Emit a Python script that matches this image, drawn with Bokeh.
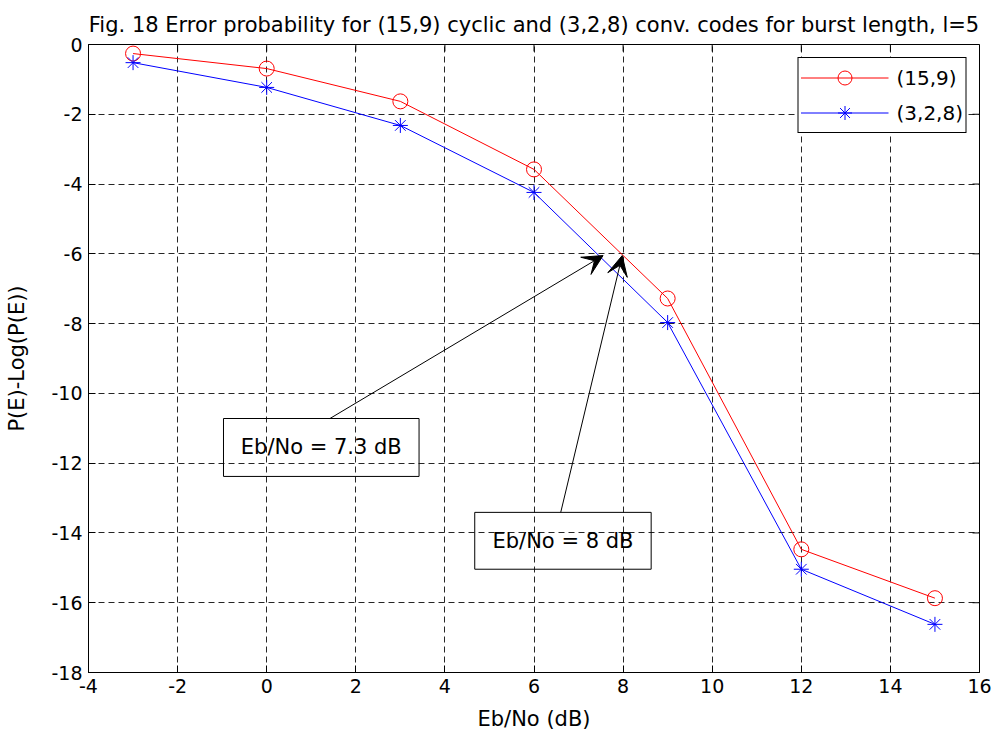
from bokeh.plotting import figure
from bokeh.models import (Range1d, Arrow, VeeHead, BoxAnnotation, Label,
                          Legend, LegendItem, FixedTicker)
from bokeh.embed import file_html
from bokeh.resources import INLINE

ebno = [-3, 0, 3, 6, 9, 12, 15]
cyclic_15_9 = [-0.26, -0.69, -1.63, -3.58, -7.28, -14.47, -15.87]
conv_3_2_8 = [-0.52, -1.23, -2.32, -4.24, -7.97, -15.04, -16.62]
x_ticks = [-4, -2, 0, 2, 4, 6, 8, 10, 12, 14, 16]
y_ticks = [0, -2, -4, -6, -8, -10, -12, -14, -16, -18]

FONT = "DejaVu Sans"
X0, X1, Y0, Y1 = -4, 16, -18, 0

p = figure(width=997, height=738, output_backend="svg", toolbar_location=None,
           x_range=Range1d(X0, X1), y_range=Range1d(Y0, Y1),
           min_border_left=88, min_border_right=18, min_border_top=44, min_border_bottom=66,
           title="Fig. 18 Error probability for (15,9) cyclic and (3,2,8) conv. codes for burst length, l=5")
p.title.align = "center"
p.title.text_font = FONT
p.title.text_font_style = "normal"
p.title.text_font_size = "21px"
p.title.text_color = "black"
p.title.standoff = 16
p.title.offset = 6

p.outline_line_color = "black"
p.outline_line_width = 1
p.outline_line_alpha = 1

for ax, ticks in ((p.xaxis[0], x_ticks), (p.yaxis[0], y_ticks)):
    ax.ticker = FixedTicker(ticks=ticks)
    ax.major_label_overrides = {t: str(t) for t in ticks}
    ax.major_tick_in = 7
    ax.major_tick_out = 0
    ax.minor_tick_in = 0
    ax.minor_tick_out = 0
    ax.axis_line_color = "black"
    ax.major_tick_line_color = "black"
    ax.major_label_text_font = FONT
    ax.major_label_text_font_size = "19px"
    ax.major_label_text_color = "black"
    ax.axis_label_text_font = FONT
    ax.axis_label_text_font_size = "21px"
    ax.axis_label_text_font_style = "normal"
    ax.axis_label_text_color = "black"

p.xaxis[0].axis_label = "Eb/No (dB)"
p.yaxis[0].axis_label = "P(E)-Log(P(E))"
p.xaxis[0].major_label_standoff = 6
p.yaxis[0].major_label_standoff = 6
p.xaxis[0].axis_label_standoff = 11
p.yaxis[0].axis_label_standoff = 19

# box ticks on top and right edges (inward)
tick_dy = 7 / 34.9
tick_dx = 7 / 44.55
p.segment(x0=x_ticks, y0=[Y1] * len(x_ticks), x1=x_ticks, y1=[Y1 - tick_dy] * len(x_ticks),
          line_color="black", line_width=1)
p.segment(x0=[X1] * len(y_ticks), y0=y_ticks, x1=[X1 - tick_dx] * len(y_ticks), y1=y_ticks,
          line_color="black", line_width=1)

for g, ticks in ((p.xgrid[0], x_ticks), (p.ygrid[0], y_ticks)):
    g.ticker = FixedTicker(ticks=ticks)
    g.grid_line_color = "black"
    g.grid_line_alpha = 0.85
    g.grid_line_dash = "6 4"
    g.grid_line_width = 1

r1l = p.line(ebno, cyclic_15_9, line_color="red", line_width=1)
r1m = p.scatter(ebno, cyclic_15_9, marker="circle", size=15, line_color="red",
                fill_color=None, line_width=1)
r2l = p.line(ebno, conv_3_2_8, line_color="blue", line_width=1)
r2m = p.scatter(ebno, conv_3_2_8, marker="asterisk", size=15, line_color="blue", line_width=1)

legend = Legend(items=[LegendItem(label="(15,9)", renderers=[r1l, r1m]),
                       LegendItem(label="(3,2,8)", renderers=[r2l, r2m])],
                location="top_right", margin=13, padding=2, spacing=0,
                glyph_width=88, glyph_height=35, label_standoff=8,
                label_text_font=FONT, label_text_font_size="20px", label_text_color="black",
                border_line_color="black", border_line_width=1.5, border_line_alpha=1,
                background_fill_color="white", background_fill_alpha=1)
p.add_layout(legend)

# annotations
ann_boxes = [(-0.97, 3.42, -10.72, -12.38), (4.67, 8.63, -13.41, -15.04)]
ann_texts = ["Eb/No = 7.3 dB", "Eb/No = 8 dB"]
arrow_starts = [(1.42, -10.72), (6.6, -13.41)]
arrow_tips = [(7.55, -6.05), (7.98, -6.05)]

for (l, r, t, b), txt in zip(ann_boxes, ann_texts):
    p.add_layout(BoxAnnotation(left=l, right=r, top=t, bottom=b, fill_alpha=0,
                               line_color="black", line_width=1, line_alpha=1))
    p.add_layout(Label(x=(l + r) / 2, y=(t + b) / 2, text=txt, text_align="center",
                       text_baseline="middle", text_font=FONT, text_font_size="21px",
                       text_color="black"))

for (xs, ys), (xe, ye) in zip(arrow_starts, arrow_tips):
    p.add_layout(Arrow(x_start=xs, y_start=ys, x_end=xe, y_end=ye, line_color="black",
                       line_width=1,
                       end=VeeHead(size=20, fill_color="black", line_color="black")))

open("out.html", "w").write(file_html(p, INLINE))
